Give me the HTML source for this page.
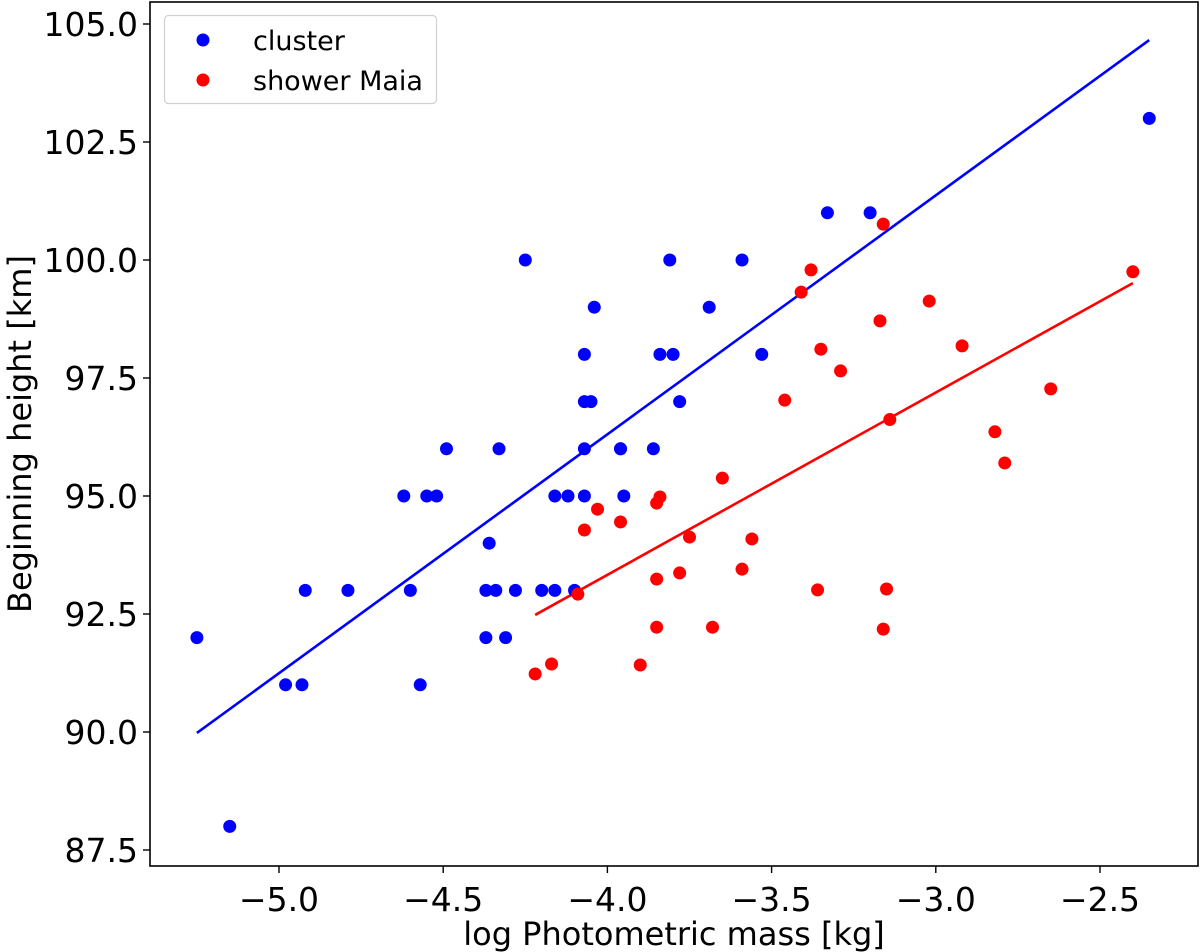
<!DOCTYPE html>
<html><head><meta charset="utf-8"><style>
html,body{margin:0;padding:0;background:#fff;}
svg{display:block;font-family:"DejaVu Sans","Liberation Sans",sans-serif;}
</style></head><body>
<svg id="chart" width="1200" height="952" viewBox="0 0 1200 952" xmlns="http://www.w3.org/2000/svg"></svg>
<script>
const xTicks = [-5.0, -4.5, -4.0, -3.5, -3.0, -2.5];
const xTickLabels = ["\u22125.0", "\u22124.5", "\u22124.0", "\u22123.5", "\u22123.0", "\u22122.5"];
const yTicks = [87.5, 90.0, 92.5, 95.0, 97.5, 100.0, 102.5, 105.0];
const yTickLabels = ["87.5", "90.0", "92.5", "95.0", "97.5", "100.0", "102.5", "105.0"];
const clusterX = [-5.25,-5.15,-4.98,-4.93,-4.92,-4.79,-4.62,-4.60,-4.57,-4.55,-4.52,-4.49,-4.37,-4.37,-4.36,-4.34,-4.33,-4.31,-4.28,-4.25,-4.20,-4.16,-4.16,-4.12,-4.10,-4.07,-4.07,-4.07,-4.07,-4.05,-4.04,-3.96,-3.96,-3.95,-3.86,-3.84,-3.81,-3.80,-3.78,-3.69,-3.59,-3.53,-3.33,-3.20,-2.35];
const clusterY = [92,88,91,91,93,93,95,93,91,95,95,96,92,93,94,93,96,92,93,100,93,95,93,95,93,98,97,96,95,97,99,96,96,95,96,98,100,98,97,99,100,98,101,101,103];
const maiaX = [-4.22,-4.17,-4.09,-4.07,-4.03,-3.96,-3.90,-3.85,-3.85,-3.85,-3.84,-3.75,-3.78,-3.68,-3.65,-3.59,-3.56,-3.46,-3.41,-3.38,-3.36,-3.35,-3.29,-3.17,-3.16,-3.16,-3.15,-3.14,-3.02,-2.92,-2.82,-2.79,-2.65,-2.40];
const maiaY = [91.23,91.44,92.92,94.28,94.72,94.45,91.42,92.22,93.24,94.85,94.98,94.13,93.37,92.22,95.38,93.45,94.09,97.03,99.32,99.79,93.01,98.11,97.65,98.71,92.18,100.76,93.03,96.62,99.13,98.18,96.36,95.70,97.27,99.75];
const clusterFitX = [-5.25, -2.35];
const clusterFitY = [89.98, 104.66];
const maiaFitX = [-4.22, -2.40];
const maiaFitY = [92.48, 99.51];

const L=150,R=1198,T=2,B=866;
function sx(v){ return 279 + (v + 5.0) * 328.4; }
function sy(v){ return 24 + (105 - v) * 47.2; }
const NS="http://www.w3.org/2000/svg";
const svg=document.getElementById('chart');
function mk(tag, attrs, parent){ const e=document.createElementNS(NS,tag); for(const k in attrs) e.setAttribute(k,attrs[k]); (parent||svg).appendChild(e); return e; }

const plot=mk('g',{});



function drawSeries(xs, ys, color, name){
  const g=mk('g',{},plot);
  
  
  for(let i=0;i<xs.length;i++){
    const c=mk('circle',{cx:sx(xs[i]),cy:sy(ys[i]),r:6.5,fill:color},g);
    
    
  }
}
function drawFit(xs, ys, color, name){
  const l=mk('line',{x1:sx(xs[0]),y1:sy(ys[0]),x2:sx(xs[1]),y2:sy(ys[1]),stroke:color,'stroke-width':2.6},plot);
  
  
}
drawFit(clusterFitX, clusterFitY, '#0000ff', 'cluster');
drawFit(maiaFitX, maiaFitY, '#ff0000', 'maia');
drawSeries(clusterX, clusterY, '#0000ff', 'cluster');
drawSeries(maiaX, maiaY, '#ff0000', 'maia');

const frame=mk('rect',{x:L,y:T,width:R-L,height:B-T,fill:'none',stroke:'#000','stroke-width':1.6});



const xg=mk('g',{});


xTicks.forEach((v,i)=>{
  mk('line',{x1:sx(v),y1:B,x2:sx(v),y2:B+7,stroke:'#000','stroke-width':1.4},xg);
  const t=mk('text',{x:sx(v),y:B+45,'font-size':33,'text-anchor':'middle',fill:'#000'},xg);
  t.textContent=xTickLabels[i];
  
  
});
const yg=mk('g',{});


yTicks.forEach((v,i)=>{
  mk('line',{x1:L-7,y1:sy(v),x2:L,y2:sy(v),stroke:'#000','stroke-width':1.4},yg);
  const t=mk('text',{x:L-12,y:sy(v)+12,'font-size':33,'text-anchor':'end',fill:'#000'},yg);
  t.textContent=yTickLabels[i];
  
  
});

const xl=mk('text',{x:674,y:945,'font-size':32,'text-anchor':'middle',fill:'#000'});
xl.textContent='log Photometric mass [kg]';


const yl=mk('text',{x:0,y:0,'font-size':32,'text-anchor':'middle',fill:'#000',transform:'translate(31,434) rotate(-90)'});
yl.textContent='Beginning height [km]';


const lg=mk('g',{});


mk('rect',{x:164.5,y:15.5,width:272,height:88,rx:4,fill:'#fff',stroke:'#d0d0d0','stroke-width':1.2},lg);
const e1=mk('g',{},lg);


mk('circle',{cx:203,cy:40,r:6.5,fill:'#0000ff'},e1);
const t1=mk('text',{x:253,y:50,'font-size':27,fill:'#000'},e1);
t1.textContent='cluster';
const e2=mk('g',{},lg);


mk('circle',{cx:203,cy:80,r:6.5,fill:'#ff0000'},e2);
const t2=mk('text',{x:253,y:90,'font-size':27,fill:'#000'},e2);
t2.textContent='shower Maia';
</script>
</body></html>
